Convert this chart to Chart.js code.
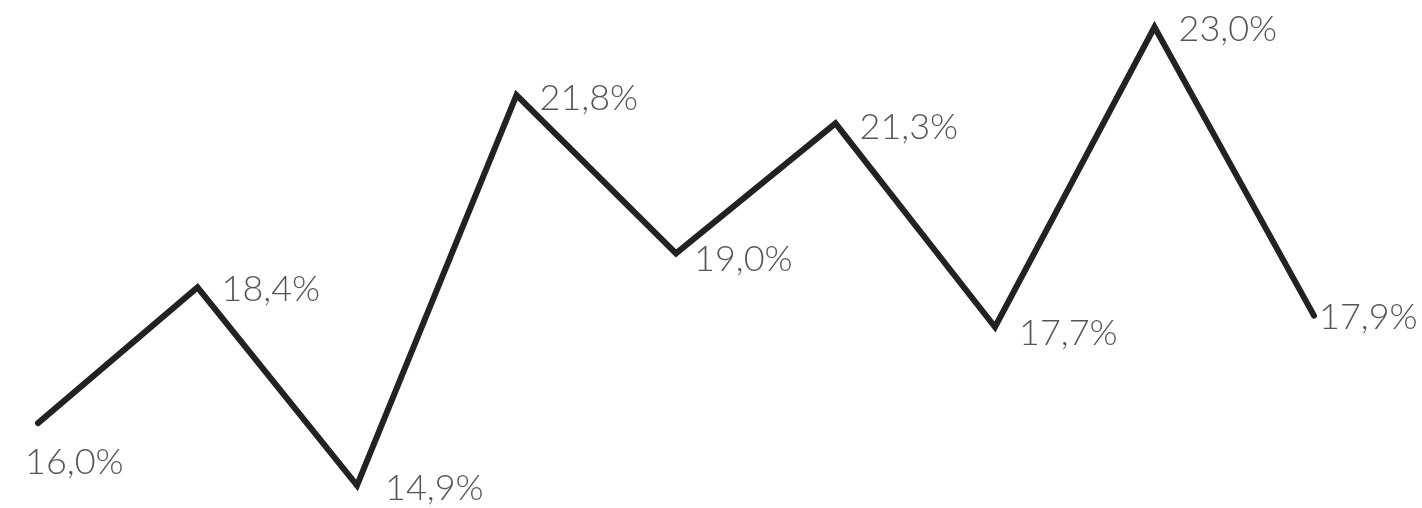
<!DOCTYPE html>
<html>
<head>
<meta charset="utf-8">
<script src="https://cdn.jsdelivr.net/npm/chart.js@4/dist/chart.umd.min.js"></script>
<style>
  html, body { margin: 0; padding: 0; background: #fff; }
  #wrap { width: 1422px; height: 508px; position: relative; }
</style>
</head>
<body>
<div id="wrap"><canvas id="lineChart"></canvas></div>
<script>
// Série e rótulos
const periodos = ['P1', 'P2', 'P3', 'P4', 'P5', 'P6', 'P7', 'P8', 'P9'];
const valores = [16.0, 18.4, 14.9, 21.8, 19.0, 21.3, 17.7, 23.0, 17.9];

// deslocamento de cada rótulo em relação ao ponto [dx, dy]
const rotuloDesloc = [[-13, 39], [24, 2], [28, 3], [23, 3], [18, 6], [24, 4], [24, 6], [24, 2], [5, 2]];

const fmt = v => v.toFixed(1).replace('.', ',') + '%';

// desenha os rótulos de valor ao lado dos pontos
const rotulos = {
    id: 'rotulos',
    afterDatasetsDraw(chart) {
        const c = chart.ctx;
        const meta = chart.getDatasetMeta(0);
        c.save();
        c.font = '300 36px Lato, "Open Sans", sans-serif';
        c.fillStyle = '#555555';
        c.textBaseline = 'middle';
        c.textAlign = 'left';
        meta.data.forEach((pt, i) => {
            const [dx, dy] = rotuloDesloc[i];
            c.fillText(fmt(valores[i]), pt.x + dx, pt.y + dy);
        });
        c.restore();
    }
};

new Chart(document.getElementById('lineChart'), {
    type: 'line',
    data: {
        labels: periodos,
        datasets: [{
            data: valores,
            borderColor: '#222222',
            borderWidth: 6,
            borderCapStyle: 'round',
            borderJoinStyle: 'miter',
            tension: 0,
            pointRadius: 0,
            fill: false,
            clip: false
        }]
    },
    options: {
        responsive: true,
        maintainAspectRatio: false,
        animation: false,
        layout: { padding: { left: 38, right: 108, top: 0, bottom: 0 } },
        plugins: { legend: { display: false }, tooltip: { enabled: false } },
        scales: {
            x: { display: false, offset: false },
            y: { display: false, min: 14.5, max: 23.48 }
        }
    },
    plugins: [rotulos]
});
</script>
</body>
</html>
